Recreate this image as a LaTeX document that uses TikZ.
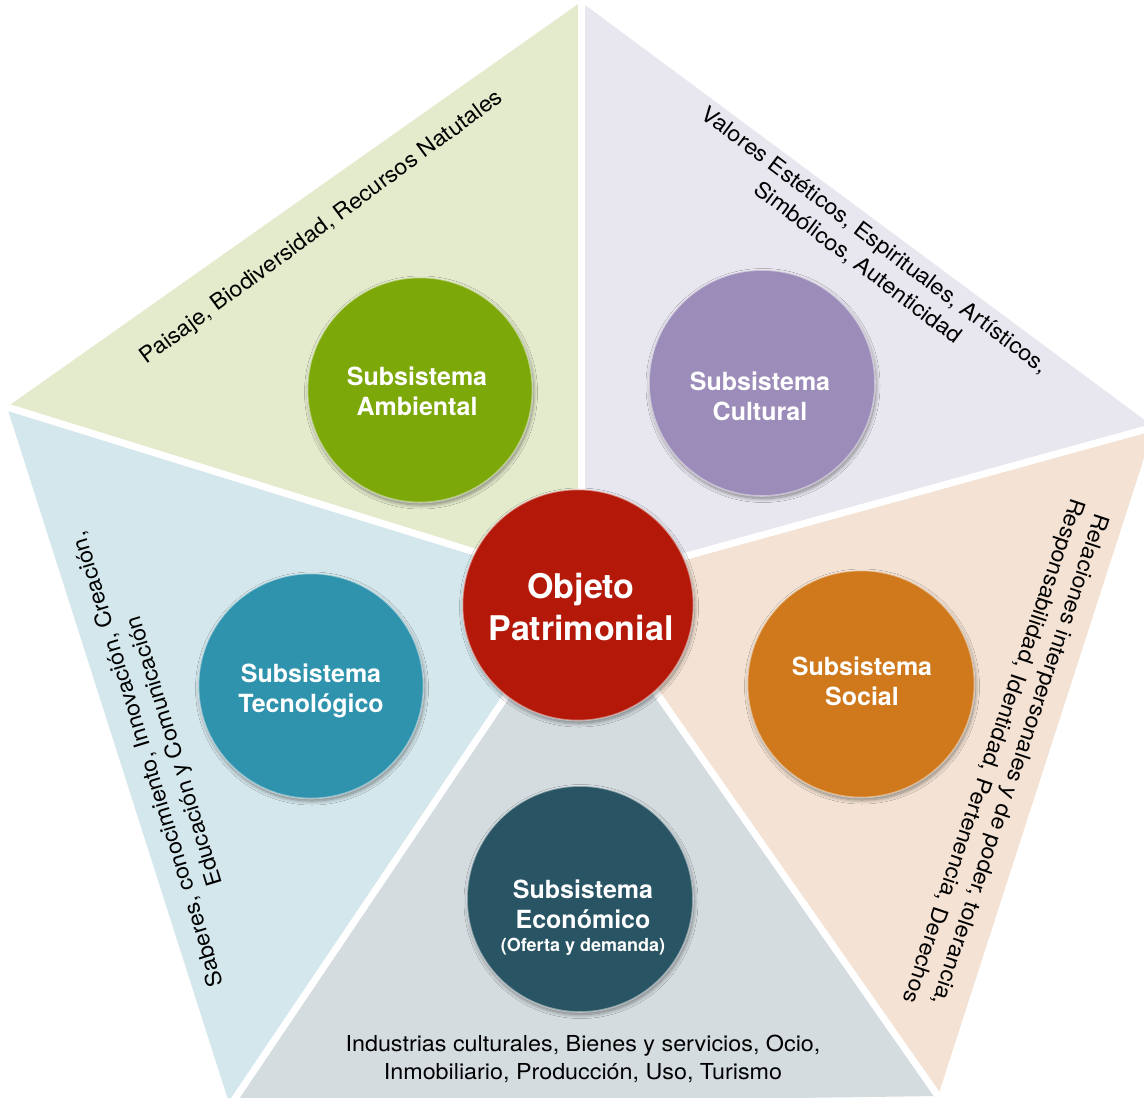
\documentclass[tikz,border=0pt]{standalone}
\usepackage{fontspec}
\setmainfont{TeX Gyre Heros}
\newfontfamily\descfont[FakeStretch=1.06]{TeX Gyre Heros}
\usetikzlibrary{shadows.blur}
\definecolor{triG}{HTML}{E4EBCC}
\definecolor{triP}{HTML}{E8E6EF}
\definecolor{triO}{HTML}{F4E3D4}
\definecolor{triS}{HTML}{D4DCE0}
\definecolor{triB}{HTML}{D4E7EC}
\definecolor{cG}{HTML}{7DA80A}
\definecolor{cP}{HTML}{9C8CB9}
\definecolor{cO}{HTML}{D0791C}
\definecolor{cB}{HTML}{2F93AD}
\definecolor{cD}{HTML}{285464}
\definecolor{cR}{HTML}{B41808}
\tikzset{
  ball/.style={circle, minimum size=#1, inner sep=0pt, draw=white, draw opacity=0.45, line width=1.6pt,
    blur shadow={shadow blur steps=10, shadow xshift=1pt, shadow yshift=-2.5pt, shadow opacity=45, shadow blur radius=4pt}},
  lbl/.style={text=white, align=center, font=\bfseries\fontsize{25}{30}\selectfont, inner sep=0pt},
  desc/.style={text=black, align=center, font=\descfont\fontsize{22}{28}\selectfont, inner sep=0pt},
  gap/.style={draw=white, line width=7pt}
}
\begin{document}
\begin{tikzpicture}[x=1pt,y=-1pt]
\useasboundingbox (0,0) rectangle (1144,1098);
\clip (0,0) rectangle (1144,1098);
\fill[white] (0,0) rectangle (1144,1098);
% pentagon vertices
\coordinate (C) at (581,585);
\coordinate (T) at (581,2);
\coordinate (L) at (7,407);
\coordinate (R) at (1154,427);
\coordinate (BL) at (230,1106);
\coordinate (BR) at (938,1096);
% sectors
\fill[triG] (C) -- (L) -- (T) -- cycle;
\fill[triP] (C) -- (T) -- (R) -- cycle;
\fill[triO] (C) -- (R) -- (BR) -- cycle;
\fill[triS] (C) -- (BR) -- (BL) -- cycle;
\fill[triB] (C) -- (BL) -- (L) -- cycle;
% white gaps
\draw[gap] (C) -- (T);
\draw[gap] (C) -- (L);
\draw[gap] (C) -- (R);
\draw[gap] (C) -- (BL);
\draw[gap] (C) -- (BR);
% circles
\node[ball=225pt, fill=cG] (amb) at (420,390) {};
\node[ball=226pt, fill=cP] (cul) at (762,383) {};
\node[ball=227pt, fill=cO] (soc) at (861,684) {};
\node[ball=225pt, fill=cB] (tec) at (311,686) {};
\node[ball=226pt, fill=cD] (eco) at (580,899) {};
\node[ball=231pt, fill=cR] (obj) at (578,605) {};
% circle labels
\node[lbl] (ambT) at (417,391) {Subsistema\\Ambiental};
\node[lbl] (culT) at (760,396) {Subsistema\\Cultural};
\node[lbl] (socT) at (862,681) {Subsistema\\Social};
\node[lbl] (tecT) at (311,691) {Subsistema\\Tecnológico};
\node[lbl] (ecoT) at (583,918) {Subsistema\\Económico\\[-7pt]{\fontsize{18}{22}\selectfont(Oferta y demanda)}};
\node[lbl, font=\bfseries\fontsize{34}{42}\selectfont] (objT) at (581,607) {Objeto\\Patrimonial};
% descriptions
\node[desc, rotate=36.5] (dAmb) at (322,228) {Paisaje, Biodiversidad, Recursos Natutales};
\node[desc, rotate=-37] (dCul) at (866,252) {Valores Estéticos, Espirituales, Artísticos,\\Simbólicos, Autenticidad};
\node[desc, rotate=-108.5] (dSoc) at (1006,755) {Relaciones interpersonales y de poder, tolerancia,\\Responsabilidad, Identidad, Pertenencia, Derechos};
\node[desc, rotate=107] (dTec) at (162,755) {Saberes, conocimiento, Innovación, Creación,\\Educación y Comunicación};
\node[desc] (dEco) at (583,1059) {Industrias culturales, Bienes y servicios, Ocio,\\Inmobiliario, Producción, Uso, Turismo};
\end{tikzpicture}
\end{document}
